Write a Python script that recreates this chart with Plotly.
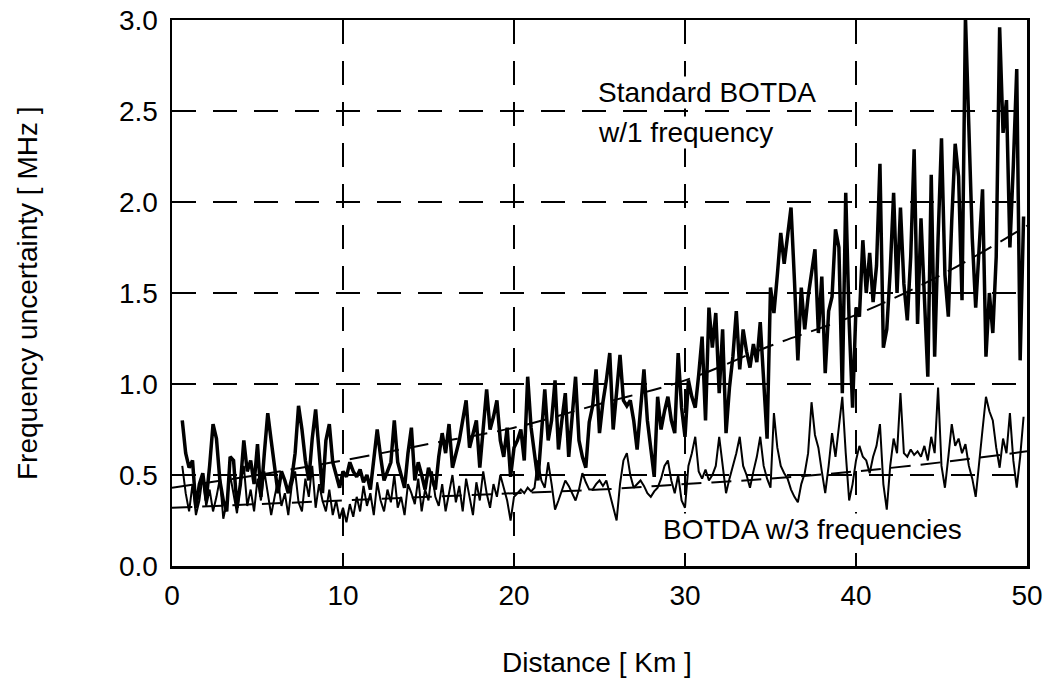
import numpy as np
import plotly.graph_objects as go

# Distance grid start/step (km) for the measured traces
x_start = 0.6
x_step = 0.2

# Standard BOTDA w/1 frequency (thick trace), MHz
standard_botda = [
    0.80, 0.62, 0.54, 0.58, 0.32, 0.45, 0.51, 0.36, 0.55, 0.78,
    0.70, 0.47, 0.36, 0.30, 0.60, 0.58, 0.32, 0.45, 0.69, 0.52,
    0.58, 0.45, 0.67, 0.38, 0.62, 0.84, 0.69, 0.55, 0.40, 0.52,
    0.47, 0.40, 0.48, 0.62, 0.88, 0.75, 0.58, 0.47, 0.70, 0.86,
    0.62, 0.40, 0.69, 0.78, 0.57, 0.50, 0.43, 0.52, 0.49, 0.57,
    0.52, 0.49, 0.53, 0.46, 0.50, 0.42, 0.60, 0.75, 0.60, 0.47,
    0.52, 0.57, 0.80, 0.57, 0.50, 0.43, 0.62, 0.76, 0.47, 0.57,
    0.50, 0.42, 0.54, 0.48, 0.42, 0.60, 0.73, 0.62, 0.78, 0.54,
    0.62, 0.69, 0.80, 0.91, 0.65, 0.72, 0.80, 0.54, 0.75, 0.97,
    0.75, 0.82, 0.91, 0.69, 0.60, 0.76, 0.49, 0.65, 0.69, 0.75,
    0.58, 1.04, 0.76, 0.60, 0.47, 0.72, 0.97, 0.69, 0.80, 1.02,
    0.64, 0.80, 0.95, 0.60, 0.82, 1.04, 0.69, 0.60, 0.54, 0.79,
    0.88, 1.08, 0.73, 0.90, 1.02, 1.17, 0.75, 0.95, 1.16, 0.91,
    0.88, 0.91, 0.80, 0.64, 0.85, 1.08, 0.80, 0.64, 0.49, 0.93,
    0.75, 0.85, 0.93, 0.80, 0.73, 1.17, 0.87, 0.71, 1.02, 0.93,
    0.87, 1.05, 1.26, 0.80, 1.42, 1.20, 1.39, 0.95, 1.30, 0.73,
    0.98, 1.15, 1.40, 1.08, 1.30, 1.18, 1.09, 1.22, 1.12, 1.34,
    0.98, 0.70, 1.53, 1.39, 1.60, 1.83, 1.66, 1.81, 1.97, 1.57,
    1.13, 1.53, 1.30, 1.48, 1.60, 1.74, 1.28, 1.59, 1.06, 1.40,
    1.48, 1.85, 1.75, 0.95, 2.05, 1.34, 0.87, 1.42, 1.37, 1.79,
    1.50, 1.72, 1.45, 1.65, 2.21, 1.20, 1.30, 1.62, 2.05, 1.50,
    1.97, 1.55, 1.35, 1.70, 2.29, 1.33, 1.91, 1.45, 1.04, 2.15,
    1.15, 1.80, 2.35, 1.60, 1.37, 1.90, 2.32, 2.14, 1.46, 3.02,
    2.41, 1.80, 1.42, 1.75, 2.07, 1.15, 1.50, 1.28, 1.70, 2.96,
    2.38, 2.56, 1.75, 2.20, 2.73, 1.13, 1.92,
]

# BOTDA w/3 frequencies (thin trace), MHz
botda_3freq = [
    0.55, 0.40, 0.30, 0.45, 0.28, 0.36, 0.50, 0.33, 0.42, 0.30,
    0.38, 0.48, 0.26, 0.35, 0.50, 0.40, 0.29, 0.45, 0.55, 0.33,
    0.42, 0.30, 0.48, 0.36, 0.52, 0.40, 0.28, 0.38, 0.47, 0.33,
    0.40, 0.28, 0.44, 0.52, 0.35, 0.30, 0.48, 0.38, 0.55, 0.32,
    0.45, 0.36, 0.30, 0.42, 0.28, 0.36, 0.26, 0.32, 0.24, 0.34,
    0.27, 0.38, 0.30, 0.44, 0.33, 0.40, 0.28, 0.46, 0.36, 0.30,
    0.42, 0.35, 0.50, 0.32, 0.38, 0.28, 0.45, 0.40, 0.34, 0.48,
    0.30, 0.42, 0.36, 0.52, 0.38, 0.33, 0.45, 0.30, 0.40, 0.50,
    0.35, 0.44, 0.30, 0.48, 0.38, 0.28, 0.46, 0.36, 0.52, 0.40,
    0.32, 0.45, 0.38, 0.50, 0.43, 0.36, 0.25, 0.38, 0.40, 0.42,
    0.40, 0.43, 0.41, 0.43, 0.58, 0.47, 0.43, 0.57, 0.45, 0.31,
    0.36, 0.42, 0.47, 0.44, 0.40, 0.36, 0.42, 0.51, 0.46, 0.42,
    0.42, 0.45, 0.47, 0.44, 0.47, 0.40, 0.33, 0.25, 0.45, 0.58,
    0.62, 0.50, 0.43, 0.45, 0.47, 0.44, 0.40, 0.38, 0.41, 0.43,
    0.48, 0.55, 0.58, 0.47, 0.40, 0.50, 0.36, 0.32, 0.55, 0.62,
    0.71, 0.52, 0.48, 0.53, 0.47, 0.50, 0.55, 0.71, 0.55, 0.40,
    0.48, 0.55, 0.62, 0.71, 0.55, 0.50, 0.43, 0.52, 0.60, 0.71,
    0.55, 0.48, 0.43, 0.84, 0.65, 0.55, 0.51, 0.48, 0.42, 0.38,
    0.35, 0.45, 0.51, 0.62, 0.90, 0.72, 0.65, 0.52, 0.40, 0.55,
    0.73, 0.60, 0.78, 0.93, 0.62, 0.36, 0.45, 0.58, 0.66, 0.60,
    0.58, 0.51, 0.60, 0.66, 0.78, 0.45, 0.31, 0.55, 0.70, 0.62,
    0.95, 0.62, 0.60, 0.64, 0.61, 0.63, 0.60, 0.66, 0.58, 0.71,
    0.62, 0.98, 0.55, 0.43, 0.60, 0.78, 0.66, 0.70, 0.62, 0.67,
    0.55, 0.48, 0.38, 0.55, 0.75, 0.93, 0.85, 0.80, 0.65, 0.54,
    0.70, 0.62, 0.84, 0.58, 0.43, 0.60, 0.82,
]

# Dashed trend curves
fit_x = [0, 5, 10, 15, 20, 25, 30, 35, 40, 45, 50]
fit_standard = [0.43, 0.50, 0.58, 0.67, 0.76, 0.89, 1.02, 1.21, 1.38, 1.60, 1.87]
fit_3freq = [0.32, 0.34, 0.36, 0.38, 0.40, 0.42, 0.45, 0.48, 0.52, 0.57, 0.63]

x_ticks = [0, 10, 20, 30, 40, 50]
y_ticks = [0.0, 0.5, 1.0, 1.5, 2.0, 2.5, 3.0]

x_std = np.round(x_start + x_step * np.arange(len(standard_botda)), 2)
x_3f = np.round(x_start + x_step * np.arange(len(botda_3freq)), 2)

FONT = "Liberation Sans, Arial, sans-serif"
FS = 28

fig = go.Figure()
fig.add_trace(go.Scatter(x=x_3f, y=botda_3freq, mode="lines",
                         line=dict(color="black", width=2), showlegend=False))
fig.add_trace(go.Scatter(x=x_std, y=standard_botda, mode="lines",
                         line=dict(color="black", width=3.5), showlegend=False))
fig.add_trace(go.Scatter(x=fit_x, y=fit_standard, mode="lines",
                         line=dict(color="black", width=2, dash="20px,10px", shape="spline"),
                         showlegend=False))
fig.add_trace(go.Scatter(x=fit_x, y=fit_3freq, mode="lines",
                         line=dict(color="black", width=2, dash="20px,10px", shape="spline"),
                         showlegend=False))

axis_common = dict(
    showline=True, linecolor="black", linewidth=2.5, mirror=True,
    ticks="inside", ticklen=12, tickwidth=1.5, tickcolor="black",
    showgrid=True, gridcolor="black", gridwidth=1.5, griddash="24px,17px",
    zeroline=False, automargin=False, ticklabeloverflow="allow",
    tickfont=dict(family=FONT, size=FS, color="black"),
)

fig.update_xaxes(range=[0, 50], tickvals=x_ticks, ticklabelstandoff=3, **axis_common)
fig.update_yaxes(range=[0, 3.0], tickvals=y_ticks, tickformat=".1f", ticklabelstandoff=6,
                 **axis_common)

ann_font = dict(family=FONT, size=FS, color="black")
# Axis titles
fig.add_annotation(xref="paper", yref="paper", x=0.497, y=-0.176,
                   text="Distance [ Km ]", showarrow=False,
                   xanchor="center", yanchor="middle", font=ann_font)
fig.add_annotation(xref="paper", yref="paper", x=-0.1696, y=0.5,
                   text="Frequency uncertainty [ MHz ]", showarrow=False, textangle=-90,
                   xanchor="center", yanchor="middle", font=ann_font)
# In-plot labels
fig.add_annotation(x=24.85, y=2.60, text="Standard BOTDA", showarrow=False,
                   xanchor="left", yanchor="middle", font=ann_font, bgcolor="white", borderpad=0)
fig.add_annotation(x=24.85, y=2.38, text="w/1 frequency", showarrow=False,
                   xanchor="left", yanchor="middle", font=ann_font, bgcolor="white", borderpad=0)
fig.add_annotation(x=28.65, y=0.20, text="BOTDA w/3 frequencies", showarrow=False,
                   xanchor="left", yanchor="middle", font=ann_font, bgcolor="white", borderpad=0)

fig.update_layout(
    width=1052, height=684,
    margin=dict(l=172, r=25, t=20, b=118, autoexpand=False),
    paper_bgcolor="white", plot_bgcolor="white",
    font=dict(family=FONT, size=FS, color="black"),
)

# Remove the default 8px page margin so the figure fills the window exactly
fig.write_html("out.html",
               config={"displayModeBar": False, "staticPlot": True},
               post_script="document.body.style.margin='0';document.body.style.overflow='hidden';")
